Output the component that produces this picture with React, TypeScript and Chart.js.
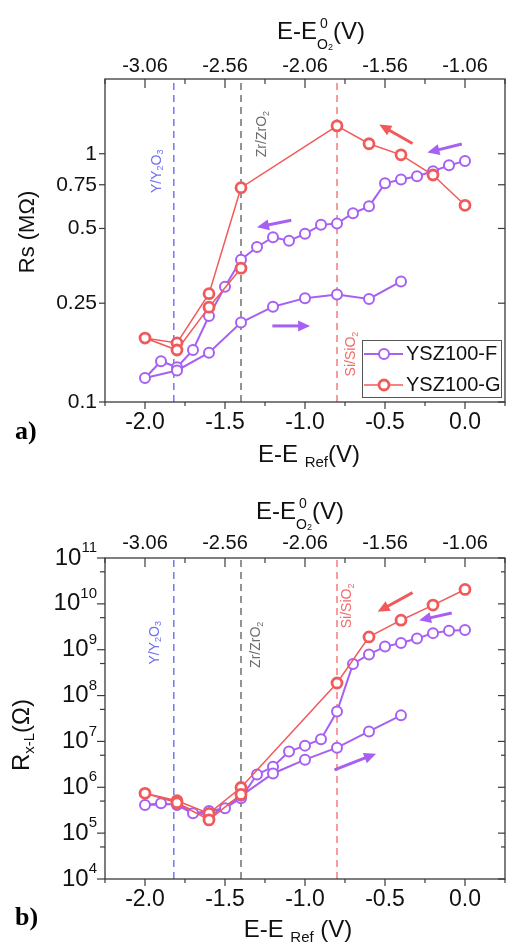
import React, { useEffect, useRef } from 'react';
import { Chart, registerables } from 'chart.js';

Chart.register(...registerables);

const FONT = "'Liberation Sans', Arial, Helvetica, sans-serif";
const SERIF = "'Liberation Serif', 'Times New Roman', serif";
const PURPLE = '#A760F2';
const RED = '#F15A5A';
const AXIS = '#3a3a3a';

// ---- data (E - E_Ref in V, sweep order) ----
const sweepF = [0, -0.1, -0.2, -0.3, -0.4, -0.5, -0.6, -0.7, -0.8, -0.9, -1.0, -1.1, -1.2, -1.3, -1.4, -1.5, -1.6, -1.7, -1.8, -1.9, -2.0, -1.8, -1.6, -1.4, -1.2, -1.0, -0.8, -0.6, -0.4];
const sweepG = [0, -0.2, -0.4, -0.6, -0.8, -1.4, -1.6, -1.8, -2.0, -1.8, -1.6, -1.4];

// panel a: Rs (MOhm)
const rsF = [0.935, 0.898, 0.85, 0.811, 0.787, 0.76, 0.614, 0.576, 0.523, 0.517, 0.476, 0.446, 0.461, 0.421, 0.374, 0.291, 0.222, 0.162, 0.138, 0.146, 0.125, 0.134, 0.158, 0.209, 0.242, 0.262, 0.271, 0.26, 0.306];
const rsG = [0.62, 0.821, 0.99, 1.097, 1.295, 0.73, 0.273, 0.173, 0.181, 0.162, 0.241, 0.346];

// panel b: R_x-L (Ohm)
const rxF = [2.7e9, 2.6e9, 2.3e9, 1.75e9, 1.4e9, 1.17e9, 7.9e8, 4.9e8, 4.5e7, 1.12e7, 8.1e6, 6.0e6, 2.8e6, 1.9e6, 5.8e5, 3.5e5, 3.05e5, 2.7e5, 4.1e5, 4.5e5, 4.1e5, 4.3e5, 2.26e5, 6.5e5, 2.0e6, 4.0e6, 7.3e6, 1.65e7, 3.7e7];
const rxG = [2.06e10, 9.4e9, 4.4e9, 1.9e9, 1.88e8, 9.9e5, 2.7e5, 5.1e5, 7.4e5, 4.6e5, 1.94e5, 7.0e5];

const seriesNames = ['YSZ100-F', 'YSZ100-G'];

// axes
const bottomTicks = [-2, -1.5, -1, -0.5, 0];
const xTickMarks = [-2.25, -2, -1.75, -1.5, -1.25, -1, -0.75, -0.5, -0.25, 0, 0.25];
const topTicks = [-3.06, -2.56, -2.06, -1.56, -1.06];
const topOffset = -1.06;
const rsTicks = [0.1, 0.25, 0.5, 0.75, 1];
const rxTicks = [1e4, 1e5, 1e6, 1e7, 1e8, 1e9, 1e10, 1e11];
const rxMinor = [5e4, 5e5, 5e6, 5e7, 5e8, 5e9, 5e10];

// redox reference potentials (E - E_Ref)
const phaseE = [-1.82, -1.4, -0.8];
const phaseColors = ['#7777F2', '#707070', '#F27E7E'];
const phaseTextColors = ['#6F6FF0', '#6E6E6E', '#F06A6A'];

type Seg = { t: string; s: number; dy?: number; dx?: number; adv?: boolean };

const phaseText: Seg[][] = [
  [{ t: 'Y/Y', s: 14 }, { t: '2', s: 9, dy: 4 }, { t: 'O', s: 14 }, { t: '3', s: 9, dy: 4 }],
  [{ t: 'Zr/ZrO', s: 14 }, { t: '2', s: 9, dy: 4 }],
  [{ t: 'Si/SiO', s: 14 }, { t: '2', s: 9, dy: 4 }],
];
const phasePosA = [[-1.927, 0.85], [-1.265, 1.2], [-0.71, 0.156]];
const phasePosB = [[-1.938, 1.42e9], [-1.304, 1.28e9], [-0.735, 9.0e9]];

// sweep-direction arrows [x0, y0, x1, y1, series]
const arrowsA = [
  [-0.328, 1.10, -0.536, 1.31, 1],
  [-0.02, 1.094, -0.235, 1.012, 0],
  [-1.086, 0.54, -1.3, 0.506, 0],
  [-1.204, 0.2025, -0.968, 0.2025, 0],
];
const arrowsB = [
  [-0.328, 1.76e10, -0.546, 6.7e9, 1],
  [-0.083, 6.3e9, -0.287, 4.4e9, 0],
  [-0.816, 2.4e6, -0.556, 5.4e6, 0],
];

function richWidth(ctx: CanvasRenderingContext2D, segs: Seg[]) {
  let w = 0;
  for (const g of segs) {
    ctx.font = `${g.s}px ${FONT}`;
    if (g.adv !== false) w += ctx.measureText(g.t).width;
  }
  return w;
}

function drawRich(ctx: CanvasRenderingContext2D, segs: Seg[], x: number, y: number, align: string, color: string) {
  const w = richWidth(ctx, segs);
  let cx = align === 'left' ? x : align === 'center' ? x - w / 2 : x - w;
  ctx.textBaseline = 'middle';
  ctx.textAlign = 'left';
  ctx.fillStyle = color;
  for (const g of segs) {
    ctx.font = `${g.s}px ${FONT}`;
    ctx.fillText(g.t, cx + (g.dx || 0), y + (g.dy || 0));
    if (g.adv !== false) cx += ctx.measureText(g.t).width;
  }
}

type Panel = {
  height: number;
  topBox: number;
  bottomBox: number;
  topPad: number;
  yF: number[];
  yG: number[];
  yMin: number;
  yMax: number;
  yMajor: number[];
  yMinor: number[];
  customY: boolean;
  leftTick: number;
  phasePos: number[][];
  arrows: number[][];
  legend: boolean;
  topTitle: Seg[];
  topTitlePos: number[];
  bottomTitle: Seg[];
  bottomTitlePos: number[];
  leftTitle: Seg[];
  leftTitlePos: number[];
  letter: string;
  letterY: number;
};

const panelA: Panel = {
  height: 470,
  topBox: 79,
  bottomBox: 68,
  topPad: 1,
  yF: rsF,
  yG: rsG,
  yMin: 0.1,
  yMax: 2,
  yMajor: rsTicks,
  yMinor: [],
  customY: false,
  leftTick: 6,
  phasePos: phasePosA,
  arrows: arrowsA,
  legend: true,
  topTitle: [{ t: 'E-E', s: 24 }, { t: '0', s: 14, dy: -8, dx: 3, adv: false }, { t: 'O', s: 14, dy: 13 }, { t: '2', s: 9, dy: 16 }, { t: '(V)', s: 24 }],
  topTitlePos: [321, 32],
  bottomTitle: [{ t: 'E-E ', s: 24 }, { t: 'Ref', s: 15, dy: 8 }, { t: '(V)', s: 24 }],
  bottomTitlePos: [309, 455],
  leftTitle: [{ t: 'Rs (M\u03A9)', s: 22 }],
  leftTitlePos: [28, 232],
  letter: 'a)',
  letterY: 439,
};

const panelB: Panel = {
  height: 473,
  topBox: 88,
  bottomBox: 64,
  topPad: 3,
  yF: rxF,
  yG: rxG,
  yMin: 1e4,
  yMax: 1e11,
  yMajor: rxTicks,
  yMinor: rxMinor,
  customY: true,
  leftTick: 8,
  phasePos: phasePosB,
  arrows: arrowsB,
  legend: false,
  topTitle: [{ t: 'E-E', s: 24 }, { t: '0', s: 14, dy: -8, dx: 3, adv: false }, { t: 'O', s: 14, dy: 13 }, { t: '2', s: 9, dy: 16 }, { t: '(V)', s: 24 }],
  topTitlePos: [300, 42],
  bottomTitle: [{ t: 'E-E ', s: 24 }, { t: 'Ref', s: 15, dy: 8 }, { t: ' (V)', s: 24 }],
  bottomTitlePos: [298, 460],
  leftTitle: [{ t: 'R', s: 24 }, { t: 'x-L', s: 15, dy: 8 }, { t: '(\u03A9)', s: 24 }],
  leftTitlePos: [22, 265],
  letter: 'b)',
  letterY: 455,
};

function line(ctx: CanvasRenderingContext2D, x0: number, y0: number, x1: number, y1: number) {
  ctx.beginPath();
  ctx.moveTo(x0, y0);
  ctx.lineTo(x1, y1);
  ctx.stroke();
}

function makeDecor(p: Panel) {
  const colors = [PURPLE, RED];
  return {
    id: 'decor',
    beforeDatasetsDraw(chart: any) {
      const ctx = chart.ctx as CanvasRenderingContext2D;
      const xs = chart.scales.x;
      const ys = chart.scales.y;
      p.phasePos.forEach((pos, i) => {
        const px = xs.getPixelForValue(pos[0]);
        const py = ys.getPixelForValue(pos[1]);
        ctx.save();
        ctx.translate(px, py);
        ctx.rotate(-Math.PI / 2);
        drawRich(ctx, phaseText[i], 0, 0, 'center', phaseTextColors[i]);
        ctx.restore();
      });
    },
    afterDatasetsDraw(chart: any) {
      const ctx = chart.ctx as CanvasRenderingContext2D;
      const xs = chart.scales.x;
      const ys = chart.scales.y;
      for (const a of p.arrows) {
        const x0 = xs.getPixelForValue(a[0]);
        const y0 = ys.getPixelForValue(a[1]);
        const x1 = xs.getPixelForValue(a[2]);
        const y1 = ys.getPixelForValue(a[3]);
        const ang = Math.atan2(y1 - y0, x1 - x0);
        const hl = 12;
        const hw = 5.5;
        const bx = x1 - hl * Math.cos(ang);
        const by = y1 - hl * Math.sin(ang);
        const col = colors[a[4]];
        ctx.save();
        ctx.strokeStyle = col;
        ctx.fillStyle = col;
        ctx.lineWidth = 3;
        ctx.lineCap = 'butt';
        line(ctx, x0, y0, bx + Math.cos(ang), by + Math.sin(ang));
        ctx.beginPath();
        ctx.moveTo(x1, y1);
        ctx.lineTo(bx + hw * Math.sin(ang), by - hw * Math.cos(ang));
        ctx.lineTo(bx - hw * Math.sin(ang), by + hw * Math.cos(ang));
        ctx.closePath();
        ctx.fill();
        ctx.restore();
      }
    },
    afterDraw(chart: any) {
      const ctx = chart.ctx as CanvasRenderingContext2D;
      const xs = chart.scales.x;
      const ys = chart.scales.y;
      const { left, right, top, bottom } = chart.chartArea;
      ctx.save();
      ctx.strokeStyle = AXIS;
      ctx.lineWidth = 1.3;
      ctx.strokeRect(left, top, right - left, bottom - top);
      ctx.lineWidth = 1.2;
      for (const v of xTickMarks) {
        const px = xs.getPixelForValue(v);
        const major = bottomTicks.indexOf(v) >= 0;
        line(ctx, px, bottom, px, bottom + (major ? 7 : 4));
        line(ctx, px, top, px, top + (major ? 9 : 5));
      }
      for (const v of p.yMajor) {
        const py = ys.getPixelForValue(v);
        line(ctx, left - p.leftTick, py, left, py);
        line(ctx, right - 7, py, right, py);
      }
      for (const v of p.yMinor) {
        const py = ys.getPixelForValue(v);
        line(ctx, left - 5, py, left, py);
        line(ctx, right - 4, py, right, py);
      }
      if (p.customY) {
        for (const v of p.yMajor) {
          const py = ys.getPixelForValue(v);
          const e = Math.round(Math.log10(v));
          drawRich(ctx, [{ t: '10', s: 24 }, { t: String(e), s: 15, dy: -10 }], left - 8, py, 'right', '#111');
        }
      }
      drawRich(ctx, p.topTitle, p.topTitlePos[0], p.topTitlePos[1], 'center', '#111');
      drawRich(ctx, p.bottomTitle, p.bottomTitlePos[0], p.bottomTitlePos[1], 'center', '#111');
      ctx.save();
      ctx.translate(p.leftTitlePos[0], p.leftTitlePos[1]);
      ctx.rotate(-Math.PI / 2);
      drawRich(ctx, p.leftTitle, 0, 0, 'center', '#111');
      ctx.restore();
      ctx.font = `bold 26px ${SERIF}`;
      ctx.fillStyle = '#000';
      ctx.textAlign = 'left';
      ctx.textBaseline = 'alphabetic';
      ctx.fillText(p.letter, 15, p.letterY);
      if (p.legend) {
        const bx = right - 143;
        const by = bottom - 62;
        ctx.fillStyle = '#fff';
        ctx.fillRect(bx, by, 139, 57);
        ctx.strokeStyle = '#555';
        ctx.lineWidth = 1;
        ctx.strokeRect(bx + 0.5, by + 0.5, 139, 57);
        const ds = chart.data.datasets.filter((d: any) => seriesNames.indexOf(d.label) >= 0);
        ds.forEach((d: any, i: number) => {
          const ry = by + 14 + i * 31;
          ctx.strokeStyle = d.borderColor;
          ctx.lineWidth = d.borderWidth;
          line(ctx, bx + 2, ry, bx + 41, ry);
          ctx.beginPath();
          ctx.arc(bx + 22, ry, d.pointRadius, 0, Math.PI * 2);
          ctx.fillStyle = '#fff';
          ctx.fill();
          ctx.lineWidth = d.pointBorderWidth;
          ctx.stroke();
          drawRich(ctx, [{ t: d.label, s: 20 }], bx + 44, ry, 'left', '#111');
        });
      }
      ctx.restore();
    },
  };
}

function noPadX(s: any, h: number) {
  s.height = h;
  s.paddingLeft = 0;
  s.paddingRight = 0;
}

function buildConfig(p: Panel): any {
  const ptsF = sweepF.map((x, i) => ({ x, y: p.yF[i] }));
  const ptsG = sweepG.map((x, i) => ({ x, y: p.yG[i] }));
  const guides = phaseE.map((e, i) => ({
    label: 'guide' + i,
    data: [{ x: e, y: p.yMin }, { x: e, y: p.yMax }],
    showLine: true,
    borderColor: phaseColors[i],
    borderWidth: 1.5,
    borderDash: [7, 5],
    pointRadius: 0,
    order: 5,
  }));
  return {
    type: 'scatter',
    data: {
      datasets: [
        ...guides,
        {
          label: seriesNames[0],
          data: ptsF,
          showLine: true,
          borderColor: PURPLE,
          borderWidth: 2,
          pointRadius: 5,
          pointBorderWidth: 2,
          pointBorderColor: PURPLE,
          pointBackgroundColor: '#fff',
          tension: 0,
          order: 2,
        },
        {
          label: seriesNames[1],
          data: ptsG,
          showLine: true,
          borderColor: RED,
          borderWidth: 1.5,
          pointRadius: 5,
          pointBorderWidth: 2.8,
          pointBorderColor: RED,
          pointBackgroundColor: '#fff',
          tension: 0,
          order: 1,
        },
      ],
    },
    options: {
      responsive: false,
      animation: false,
      events: [],
      layout: { autoPadding: false, padding: { left: 0, right: 1, top: 0, bottom: 0 } },
      plugins: { legend: { display: false }, tooltip: { enabled: false } },
      scales: {
        x: {
          type: 'linear',
          position: 'bottom',
          min: -2.25,
          max: 0.25,
          afterBuildTicks: (s: any) => { s.ticks = bottomTicks.map((v) => ({ value: v })); },
          afterFit: (s: any) => { noPadX(s, p.bottomBox); },
          grid: { display: false, drawTicks: false },
          border: { display: false },
          ticks: {
            autoSkip: false, maxRotation: 0, minRotation: 0, padding: 7, color: '#111',
            font: { family: FONT, size: 23 },
            callback: (v: any) => Number(v).toFixed(1),
          },
        },
        x2: {
          type: 'linear',
          axis: 'x',
          position: 'top',
          min: -2.25 + topOffset,
          max: 0.25 + topOffset,
          afterBuildTicks: (s: any) => { s.ticks = topTicks.map((v) => ({ value: v })); },
          afterFit: (s: any) => { noPadX(s, p.topBox); },
          grid: { display: false, drawTicks: false },
          border: { display: false },
          ticks: {
            autoSkip: false, maxRotation: 0, minRotation: 0, padding: p.topPad, color: '#111',
            font: { family: FONT, size: 20 },
            callback: (v: any) => Number(v).toFixed(2),
          },
        },
        y: {
          type: 'logarithmic',
          position: 'left',
          min: p.yMin,
          max: p.yMax,
          afterBuildTicks: (s: any) => { s.ticks = p.yMajor.map((v) => ({ value: v })); },
          afterFit: (s: any) => { s.width = 105; s.paddingTop = 0; s.paddingBottom = 0; },
          grid: { display: false, drawTicks: false },
          border: { display: false },
          ticks: {
            display: !p.customY, autoSkip: false, padding: 8, color: '#111',
            font: { family: FONT, size: 21 },
            callback: (v: any) => String(v),
          },
        },
      },
    },
    plugins: [makeDecor(p)],
  };
}

export default function App() {
  const ref1 = useRef<HTMLCanvasElement>(null);
  const ref2 = useRef<HTMLCanvasElement>(null);
  useEffect(() => {
    const c1 = new Chart(ref1.current as HTMLCanvasElement, buildConfig(panelA));
    const c2 = new Chart(ref2.current as HTMLCanvasElement, buildConfig(panelB));
    return () => {
      c1.destroy();
      c2.destroy();
    };
  }, []);
  return (
    <div style={{ position: 'absolute', left: 0, top: 0, width: 506, height: 943, background: '#fff', overflow: 'hidden' }}>
      <canvas ref={ref1} width={506} height={470} style={{ position: 'absolute', left: 0, top: 0, width: 506, height: 470 }} />
      <canvas ref={ref2} width={506} height={473} style={{ position: 'absolute', left: 0, top: 470, width: 506, height: 473 }} />
    </div>
  );
}
